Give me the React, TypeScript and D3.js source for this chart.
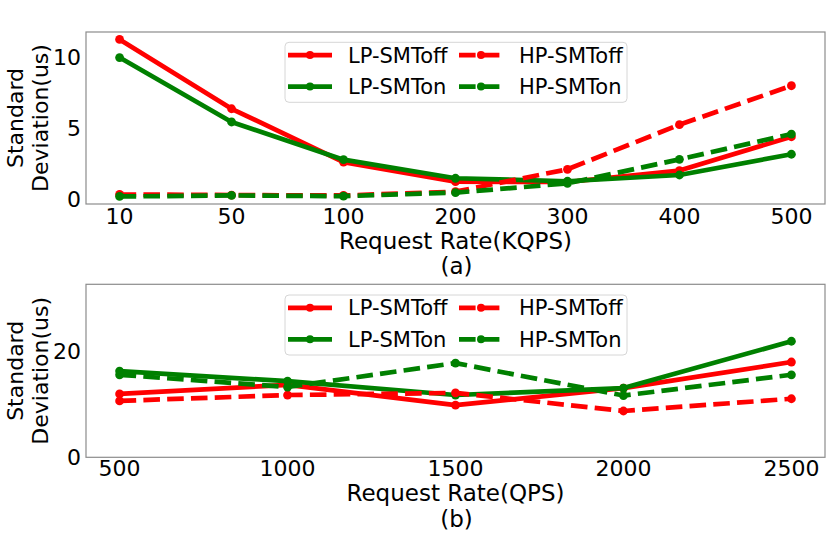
import React from 'react'
import * as d3 from 'd3'

const kqpsLabels = ['10', '50', '100', '200', '300', '400', '500']
const lpOffA = [11.23, 6.35, 2.6, 1.22, 1.2, 2.0, 4.38]
const lpOnA = [9.95, 5.42, 2.77, 1.46, 1.25, 1.69, 3.15]
const hpOffA = [0.32, 0.28, 0.25, 0.52, 2.09, 5.23, 7.97]
const hpOnA = [0.18, 0.25, 0.2, 0.45, 1.1, 2.79, 4.57]
const yTicksA = [0, 5, 10]

const qpsLabels = ['500', '1000', '1500', '2000', '2500']
const lpOffB = [11.9, 13.6, 9.8, 13.0, 17.9]
const lpOnB = [16.2, 14.3, 11.7, 13.0, 21.8]
const hpOffB = [10.6, 11.7, 12.1, 8.7, 11.0]
const hpOnB = [15.5, 13.2, 17.7, 11.6, 15.5]
const yTicksB = [0, 20]

const seriesNames = ['LP-SMToff', 'LP-SMTon', 'HP-SMToff', 'HP-SMTon']
const RED = '#ff0000'
const GREEN = '#008000'
const FONT = 'DejaVu Sans'
const LW = 4.7
const DASH = '16.6,7.2'

interface Series {
  name: string
  values: number[]
  color: string
  dashed: boolean
}

interface PanelProps {
  top: number
  bottom: number
  labels: string[]
  series: Series[]
  yDomain: [number, number]
  yTicks: number[]
  xTitle: string
  caption: string
  tickBaseline: number
  titleBaseline: number
  captionBaseline: number
  legendTop: number
}

const left = 86
const right = 825

function Panel(p: PanelProps) {
  const n = p.labels.length
  const pad = (n - 1) * 0.05
  const x = d3.scaleLinear().domain([-pad, n - 1 + pad]).range([left, right])
  const y = d3.scaleLinear().domain(p.yDomain).range([p.bottom, p.top])
  const line = d3
    .line<number>()
    .x((_, i) => x(i))
    .y((d) => y(d))
  const midY = (p.top + p.bottom) / 2
  const midX = (left + right) / 2

  // legend layout: two columns, column-major
  const legX = 285
  const legW = 342
  const legH = 60
  const cols = [288, 459]
  const rows = [p.legendTop + 12.8, p.legendTop + 44.3]

  return (
    <g>
      {p.series.map((s) => (
        <g key={s.name}>
          <path
            d={line(s.values) || ''}
            fill="none"
            stroke={s.color}
            strokeWidth={LW}
            strokeDasharray={s.dashed ? DASH : undefined}
            strokeLinejoin="round"
          />
          {s.values.map((v, i) => (
            <circle key={i} cx={x(i)} cy={y(v)} r={4.4} fill={s.color} />
          ))}
        </g>
      ))}
      <rect
        x={left}
        y={p.top}
        width={right - left}
        height={p.bottom - p.top}
        fill="none"
        stroke="#8c8c8c"
        strokeWidth={1.2}
      />
      {p.labels.map((l, i) => (
        <text
          key={l}
          x={x(i)}
          y={p.tickBaseline}
          textAnchor="middle"
          fontSize={22}
          fontFamily={FONT}
        >
          {l}
        </text>
      ))}
      {p.yTicks.map((t) => (
        <text
          key={t}
          x={81}
          y={y(t)}
          dy="0.36em"
          textAnchor="end"
          fontSize={22}
          fontFamily={FONT}
        >
          {t}
        </text>
      ))}
      <text
        transform={`translate(23,${midY}) rotate(-90)`}
        textAnchor="middle"
        fontSize={22}
        fontFamily={FONT}
      >
        Standard
      </text>
      <text
        transform={`translate(48,${midY}) rotate(-90)`}
        textAnchor="middle"
        fontSize={22}
        fontFamily={FONT}
      >
        Deviation(us)
      </text>
      <text x={midX} y={p.titleBaseline} textAnchor="middle" fontSize={23} fontFamily={FONT}>
        {p.xTitle}
      </text>
      <text x={midX + 1} y={p.captionBaseline} textAnchor="middle" fontSize={23} fontFamily={FONT}>
        {p.caption}
      </text>

      <rect
        x={legX}
        y={p.legendTop}
        width={legW}
        height={legH}
        rx={4}
        fill="white"
        fillOpacity={0.8}
        stroke="#d6d6d6"
        strokeWidth={1}
      />
      {p.series.map((s, i) => {
        const cx = cols[Math.floor(i / 2)]
        const cy = rows[i % 2]
        return (
          <g key={s.name}>
            <line
              x1={cx}
              x2={cx + 44}
              y1={cy}
              y2={cy}
              stroke={s.color}
              strokeWidth={LW}
              strokeDasharray={s.dashed ? DASH : undefined}
            />
            <circle cx={cx + 22} cy={cy} r={4} fill={s.color} />
            <text x={cx + 60} y={cy} dy="0.36em" fontSize={21} fontFamily={FONT}>
              {s.name}
            </text>
          </g>
        )
      })}
    </g>
  )
}

export default function App() {
  const colors = [RED, GREEN, RED, GREEN]
  const mk = (vals: number[][]): Series[] =>
    vals.map((v, i) => ({ name: seriesNames[i], values: v, color: colors[i], dashed: i >= 2 }))

  return (
    <div style={{ position: 'absolute', left: 0, top: 0 }}>
      <svg width={830} height={554} style={{ display: 'block', background: 'white' }}>
        <Panel
          top={32}
          bottom={204}
          labels={kqpsLabels}
          series={mk([lpOffA, lpOnA, hpOffA, hpOnA])}
          yDomain={[-0.35, 11.75]}
          yTicks={yTicksA}
          xTitle="Request Rate(KQPS)"
          caption="(a)"
          tickBaseline={224}
          titleBaseline={249}
          captionBaseline={274}
          legendTop={42.3}
        />
        <Panel
          top={284.3}
          bottom={457.3}
          labels={qpsLabels}
          series={mk([lpOffB, lpOnB, hpOffB, hpOnB])}
          yDomain={[0, 32.5]}
          yTicks={yTicksB}
          xTitle="Request Rate(QPS)"
          caption="(b)"
          tickBaseline={476}
          titleBaseline={501}
          captionBaseline={527}
          legendTop={295}
        />
      </svg>
    </div>
  )
}
